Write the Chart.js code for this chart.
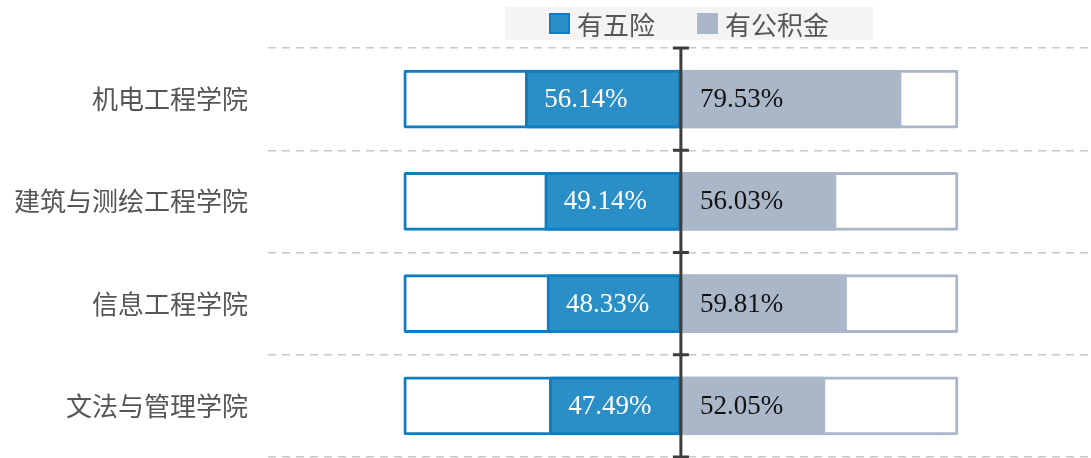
<!DOCTYPE html>
<html>
<head>
<meta charset="utf-8">
<script src="https://cdn.jsdelivr.net/npm/chart.js@4.4.0/dist/chart.umd.min.js"></script>
<style>
    body { margin: 0; background: #fff; overflow: hidden; }
    #caixa { position: relative; width: 1091px; height: 458px; }
    #chartSeguros { display: block; }
    #legenda {
        position: absolute; left: 505px; top: 7px; width: 368px; height: 33px;
        background: #f4f4f4; display: flex; align-items: center; justify-content: center;
        font-family: "Noto Sans CJK SC", sans-serif; font-size: 26px; color: #555;
    }
    #legenda .item { display: flex; align-items: center; }
    #legenda .item + .item { margin-left: 42px; }
    #legenda .quad { width: 17px; height: 17px; border: 2px solid; margin-right: 7px; }
</style>
</head>
<body>
<div id="caixa">
    <canvas id="chartSeguros" width="1091" height="458"></canvas>
    <div id="legenda"></div>
</div>
<script>
// dados
const categorias = ['机电工程学院', '建筑与测绘工程学院', '信息工程学院', '文法与管理学院'];
const legendas = ['有五险', '有公积金'];
const temCincoSeguros = [56.14, 49.14, 48.33, 47.49];
const temFundo = [79.53, 56.03, 59.81, 52.05];
// caixa de fundo (100%) de cada lado
const caixaEsq = [-100, -100, -100, -100];
const caixaDir = [100, 100, 100, 100];

const corAzul = '#2a8fc7';
const bordaAzul = '#0f7dc2';
const corCinza = '#aab7c9';

// legenda em html
const legendaDiv = document.getElementById('legenda');
[[legendas[0], corAzul, bordaAzul], [legendas[1], corCinza, corCinza]].forEach(function(l) {
    legendaDiv.innerHTML += '<div class="item"><div class="quad" style="background:' + l[1] +
        ';border-color:' + l[2] + '"></div><span>' + l[0] + '</span></div>';
});

// rótulos de porcentagem + eixo central
const pluginRotulos = {
    id: 'rotulos',
    afterDatasetsDraw(chart) {
        const ctx = chart.ctx;
        const x0 = chart.scales.x.getPixelForValue(0);
        ctx.save();
        ctx.font = '27px "Liberation Serif"';
        ctx.textBaseline = 'middle';
        ctx.textAlign = 'left';
        [0, 1].forEach(function(d) {
            const meta = chart.getDatasetMeta(d);
            meta.data.forEach(function(bar, i) {
                const v = d == 0 ? temCincoSeguros[i] : temFundo[i];
                const inicio = d == 0 ? bar.x : x0;
                ctx.fillStyle = d == 0 ? '#fff' : '#111';
                ctx.fillText(v.toFixed(2) + '%', inicio + 19, bar.y + 1);
            });
        });

        const y = chart.scales.y;
        ctx.strokeStyle = '#3d3d3d';
        ctx.lineWidth = 3;
        ctx.beginPath();
        ctx.moveTo(x0, chart.chartArea.top - 1);
        ctx.lineTo(x0, chart.chartArea.bottom + 2);
        for (let n = 0; n <= categorias.length; n++) {
            const yy = y.getPixelForValue(n - 0.5);
            ctx.moveTo(x0 - 8, yy);
            ctx.lineTo(x0 + 8, yy);
        }
        ctx.stroke();
        ctx.restore();
    }
};

const comum = { grouped: false, barThickness: 58, borderWidth: 3, borderSkipped: false, borderRadius: 2 };

const ctx = document.getElementById('chartSeguros').getContext('2d');
const myChart = new Chart(ctx, {
    type: 'bar',
    data: {
        labels: categorias,
        datasets: [
            Object.assign({ label: legendas[0], data: temCincoSeguros.map(v => -v), backgroundColor: corAzul, borderColor: bordaAzul, order: 1 }, comum),
            Object.assign({ label: legendas[1], data: temFundo, backgroundColor: corCinza, borderColor: corCinza, order: 1 }, comum),
            Object.assign({ label: 'fundo1', data: caixaEsq, backgroundColor: '#fff', borderColor: bordaAzul, order: 2 }, comum),
            Object.assign({ label: 'fundo2', data: caixaDir, backgroundColor: '#fff', borderColor: corCinza, order: 2 }, comum)
        ]
    },
    options: {
        indexAxis: 'y',
        responsive: false,
        animation: false,
        layout: { padding: { top: 48, bottom: 1, left: 0, right: 0 } },
        plugins: { legend: { display: false }, tooltip: { enabled: false } },
        scales: {
            x: { min: -149, max: 148, display: false },
            y: {
                grid: { offset: true, color: '#c8c8c8', lineWidth: 1.5, drawTicks: false },
                border: { display: false, dash: [8, 6] },
                ticks: { padding: 20, color: '#555', font: { family: '"Noto Sans CJK SC"', size: 26 } },
                afterFit: function(scale) {
                    scale.width = 268;
                    scale.paddingTop = 0;
                    scale.paddingBottom = 0;
                }
            }
        }
    },
    plugins: [pluginRotulos]
});
</script>
</body>
</html>
